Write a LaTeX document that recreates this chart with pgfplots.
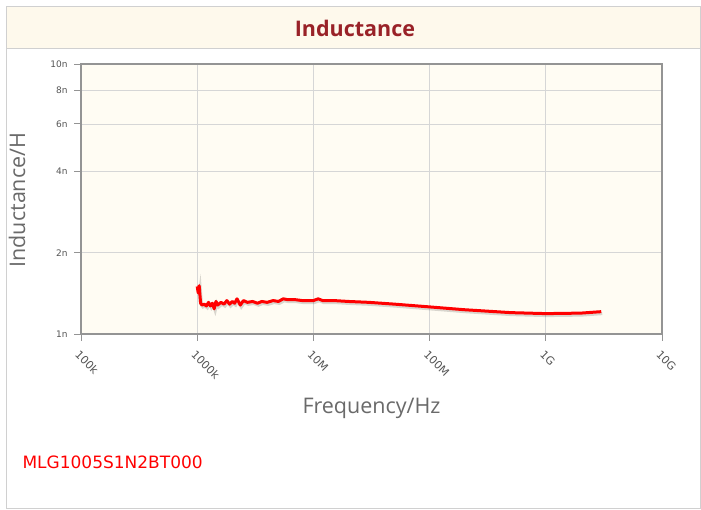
\documentclass[border=0pt]{standalone}
\usepackage{fontspec}
\setmainfont{DejaVu Sans}
\newfontfamily\titlefont{Open Sans}
\newfontfamily\labfont{Open Sans}
\usepackage{pgfplots}
\pgfplotsset{compat=1.18}
\definecolor{bgc}{HTML}{FFFCF3}
\definecolor{titlebg}{HTML}{FEF9EC}
\definecolor{titlec}{HTML}{992228}
\definecolor{framec}{HTML}{D0D0D0}
\definecolor{axc}{HTML}{949494}
\definecolor{gridc}{HTML}{D6D6D6}
\definecolor{labc}{HTML}{6A6A6A}
\definecolor{tickc}{HTML}{555555}
\pgfplotstableread{
f L
1.00e6 1.50
1.02e6 1.42
1.04e6 1.51
1.07e6 1.30
1.10e6 1.28
1.15e6 1.29
1.20e6 1.27
1.25e6 1.31
1.30e6 1.27
1.35e6 1.30
1.40e6 1.24
1.45e6 1.32
1.50e6 1.28
1.60e6 1.31
1.70e6 1.29
1.80e6 1.33
1.90e6 1.29
2.00e6 1.32
2.10e6 1.30
2.20e6 1.35
2.35e6 1.28
2.50e6 1.33
2.70e6 1.31
3.00e6 1.32
3.30e6 1.30
3.60e6 1.32
4.00e6 1.31
4.50e6 1.33
5.00e6 1.32
5.50e6 1.35
6.00e6 1.34
7.00e6 1.34
8.00e6 1.33
1.00e7 1.33
1.10e7 1.35
1.20e7 1.33
1.50e7 1.33
2.00e7 1.32
3.00e7 1.31
5.00e7 1.29
1.00e8 1.26
2.00e8 1.23
5.00e8 1.20
1.00e9 1.19
2.00e9 1.195
3.00e9 1.21
}\datatable
\begin{document}
\begin{tikzpicture}
\path[fill=white] (0pt,0pt) rectangle (701pt,-509pt);
\draw[framec, line width=1pt] (6.5pt,-6.5pt) rectangle (700.5pt,-508.5pt);
\fill[titlebg] (7pt,-7pt) rectangle (700pt,-48pt);
\draw[framec, line width=1pt] (7pt,-48pt) -- (700pt,-48pt);
\node[font=\titlefont\bfseries\fontsize{21.5}{22}\selectfont, text=titlec] at (355pt,-28pt) {Inductance};
\begin{axis}[at={(81pt,-334pt)}, anchor=south west, width=581pt, height=270pt, scale only axis,
 xmode=log, ymode=log, xmin=1e5, xmax=1e10, ymin=1, ymax=10,
 axis background/.style={fill=bgc},
 xtick={1e5,1e6,1e7,1e8,1e9,1e10}, xticklabels={100k,1000k,10M,100M,1G,10G},
 ytick={1,2,4,6,8,10}, yticklabels={1n,2n,4n,6n,8n,10n},
 xminorticks=false, yminorticks=false,
 grid=major, major grid style={gridc, line width=0.8pt},
 axis line style={axc, line width=2pt},
 tick style={axc, line width=1pt}, major tick length=7pt, tick align=outside,
 xtick pos=bottom, ytick pos=left,
 /pgf/number format/assume math mode=true,
 yticklabel style={font=\fontsize{9}{10}\selectfont, text=tickc, xshift=-3pt},
 xticklabel style={font=\fontsize{11}{12}\selectfont, text=tickc, rotate=-45, anchor=north west, yshift=-3pt, xshift=2pt},
 xlabel={Frequency/Hz}, ylabel={Inductance/H},
 xlabel style={font=\labfont\fontsize{21.5}{22}\selectfont, text=labc, at={(axis description cs:0.5,-0.274)}, anchor=center},
 ylabel style={font=\labfont\fontsize{21.5}{22}\selectfont, text=labc, at={(axis description cs:-0.110,0.496)}, anchor=center},
]
\addplot[no markers, black, opacity=0.15, line width=3pt, xshift=1pt, yshift=-2pt] table[x=f,y=L] {\datatable};
\addplot[no markers, red, line width=3pt, line join=round] table[x=f,y=L] {\datatable};
\end{axis}
\node[anchor=west, text=red, font=\fontsize{17}{19}\selectfont] at (19pt,-462pt) {MLG1005S1N2BT000};
\end{tikzpicture}
\end{document}
